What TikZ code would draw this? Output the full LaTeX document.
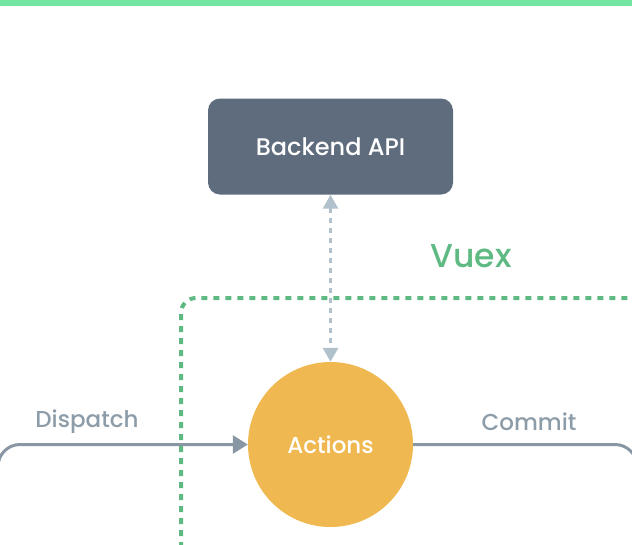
\documentclass[tikz,border=0pt]{standalone}
\usepackage{fontspec}
\setmainfont{Poppins Medium}
\usetikzlibrary{arrows.meta}
\definecolor{topbar}{RGB}{115,229,160}
\definecolor{apibox}{RGB}{94,108,125}
\definecolor{dotgray}{RGB}{176,193,203}
\definecolor{vuexgreen}{RGB}{94,186,130}
\definecolor{actorange}{RGB}{240,184,80}
\definecolor{linegray}{RGB}{136,151,163}
\definecolor{labelgray}{RGB}{140,156,168}
\tikzset{
  apistyle/.style={draw=none, fill=apibox, rounded corners=12pt, minimum width=245pt, minimum height=96pt, text=white, font=\fontsize{24}{28}\selectfont, inner sep=0pt},
  actstyle/.style={circle, fill=actorange, minimum size=165pt, text=white, font=\fontsize{23}{27}\selectfont, inner sep=0pt},
  flowline/.style={draw=linegray, line width=3pt, rounded corners=22pt},
  flowlabel/.style={text=labelgray, font=\fontsize{23}{27}\selectfont, inner sep=0pt},
  apilink/.style={draw=dotgray, line width=3pt, dash pattern=on 5pt off 5pt, {Triangle[width=15pt,length=14pt]}-{Triangle[width=15pt,length=14pt]}},
  vuexbox/.style={draw=vuexgreen, line width=4pt, dash pattern=on 6pt off 6pt, rounded corners=15pt}
}
\begin{document}
\begin{tikzpicture}[x=1pt,y=-1pt]
\useasboundingbox (0,0) rectangle (632,544);
\clip (0,0) rectangle (632,544);
\fill[topbar] (0,0) rectangle (632,6);
\node[apistyle] (api) at (330.5,146.5) {Backend API};
\node[actstyle] (act) at (330.5,444.5) {Actions};
\node[text=vuexgreen, font=\fontsize{33}{38}\selectfont, inner sep=0pt] (vuex) at (471,256) {Vuex};
\coordinate (vbl) at (181,560);
\coordinate (vtr) at (660,298);
\draw[vuexbox] (vbl) |- (vtr);
\draw[apilink] (api.south) -- (act.north);
\coordinate (dstart) at (-2,480);
\coordinate (cend) at (637,480);
\draw[flowline, -{Triangle[width=18pt,length=15pt]}] (dstart) |- (act.west);
\draw[flowline] (act.east) -| (cend);
\node[flowlabel] (dlab) at (87,422) {Dispatch};
\node[flowlabel] (clab) at (529,422) {Commit};
\end{tikzpicture}
\end{document}
